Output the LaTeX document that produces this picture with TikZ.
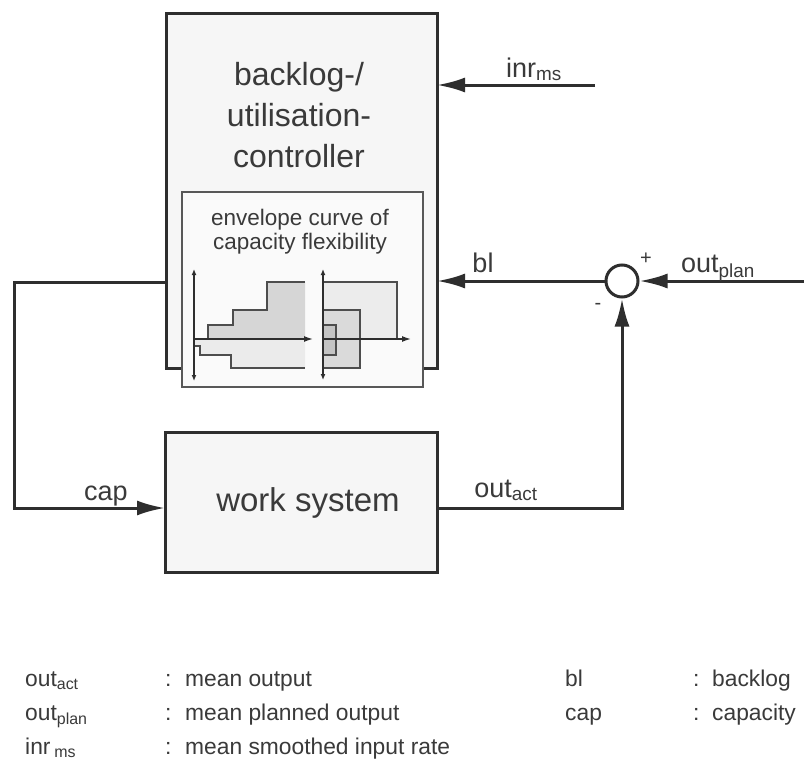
\documentclass[tikz,border=0pt]{standalone}
\usepackage{fontspec}
\setmainfont{Liberation Sans}
\usetikzlibrary{arrows.meta,calc}
\definecolor{ink}{HTML}{2E2E2E}
\definecolor{txt}{HTML}{3A3A3A}
\definecolor{boxfill}{HTML}{F6F6F6}
\definecolor{innerfill}{HTML}{FAFAFA}
\definecolor{gA}{HTML}{D6D6D6}
\definecolor{gB}{HTML}{EBEBEB}
\definecolor{gC}{HTML}{ECECEC}
\definecolor{gD}{HTML}{DADADA}
\definecolor{gE}{HTML}{C4C4C4}
\tikzset{
  bigbox/.style={draw=ink, line width=3pt, fill=boxfill, inner sep=0pt, outer sep=0pt},
  innerbox/.style={draw=ink!80, line width=1.3pt, fill=innerfill, inner sep=0pt, outer sep=0pt},
  conn/.style={draw=ink, line width=3pt, -{Latex[length=28pt,width=15pt]}},
  maintext/.style={text=txt, font=\fontsize{32}{41}\selectfont, anchor=base, inner sep=0pt},
  envtext/.style={text=txt, font=\fontsize{22.5}{26}\selectfont, anchor=base, inner sep=0pt},
  labeltext/.style={text=txt, font=\fontsize{27}{30}\selectfont, inner sep=0pt},
  legend/.style={text=txt, font=\fontsize{22.8}{26}\selectfont, anchor=base west, inner sep=0pt},
  axis/.style={draw=ink, line width=1.4pt},
  stair/.style={draw=ink!85, line width=1.4pt},
}
\begin{document}
\begin{tikzpicture}[x=1pt,y=-1pt]
\useasboundingbox (0,0) rectangle (804,774);
\fill[white] (0,0) rectangle (804,774);

% controller box
\node[bigbox, minimum width=271pt, minimum height=355pt] (ctrl) at (301.5,190.5) {};
\node[maintext] (ctrlA) at (299,85) {backlog-/};
\node[maintext] (ctrlB) at (299,126) {utilisation-};
\node[maintext] (ctrlC) at (299,167) {controller};

% inner box
\node[innerbox, minimum width=241pt, minimum height=195pt] (inner) at (302.5,289.5) {};
\node[envtext] (envA) at (300,225) {envelope curve of};
\node[envtext] (envB) at (300,249) {capacity flexibility};

% left envelope diagram
\fill[gA] (208,339) -- (208,325) -- (233,325) -- (233,310) -- (267,310) -- (267,282) -- (305,282) -- (305,339) -- cycle;
\fill[gB] (195,339) -- (195,346) -- (200,346) -- (200,355) -- (231,355) -- (231,368) -- (305,368) -- (305,339) -- cycle;
\draw[stair] (208,339) -- (208,325) -- (233,325) -- (233,310) -- (267,310) -- (267,282) -- (305,282);
\draw[stair] (194,346) -- (200,346) -- (200,355) -- (231,355) -- (231,368) -- (305,368);
\draw[axis, {Latex[length=6pt,width=5pt]}-{Latex[length=6pt,width=5pt]}] (194,269) -- (194,381);
\draw[axis, -{Latex[length=9pt,width=6pt]}] (194,339) -- (313,339);

% right envelope diagram
\filldraw[fill=gC, draw=ink!85, line width=1.4pt] (323,282) -- (397,282) -- (397,339) -- (323,339);
\filldraw[fill=gD, draw=ink!85, line width=1.4pt] (323,310) -- (360,310) -- (360,368) -- (323,368);
\filldraw[fill=gE, draw=ink!85, line width=1.4pt] (323,325) -- (336,325) -- (336,355) -- (323,355);
\draw[axis, {Latex[length=6pt,width=5pt]}-{Latex[length=6pt,width=5pt]}] (323,269) -- (323,380);
\draw[axis, -{Latex[length=9pt,width=6pt]}] (323,339) -- (411,339);

% work system
\node[bigbox, minimum width=272pt, minimum height=140pt] (ws) at (301,502) {};
\node[text=txt, font=\fontsize{33}{40}\selectfont, inner sep=0pt] (wstext) at (308,503) {work system};

% summing junction
\node[draw=ink, line width=3pt, circle, minimum size=32pt, inner sep=0pt, fill=white] (sum) at (622,281) {};
\node[text=txt, font=\fontsize{20}{22}\selectfont, inner sep=0pt] (plus) at (646,259) {+};
\node[text=txt, font=\fontsize{20}{22}\selectfont, inner sep=0pt] (minus) at (598,306) {-};

% connectors
\coordinate (inrS) at (595,85);
\draw[conn] (inrS) -- (ctrl.east |- inrS);
\node[labeltext, anchor=base] (inrL) at (534,77) {inr\textsubscript{ms}};

\draw[conn] (sum.west) -- (ctrl.east |- sum.west);
\node[labeltext, anchor=base] (blL) at (483,272) {bl};

\coordinate (planS) at (804,281);
\draw[conn] (planS) -- (sum.east);
\node[labeltext, anchor=base] (planL) at (718,272) {out\textsubscript{plan}};

\coordinate (oa) at (437,508);
\draw[conn] (oa) -| (sum.south);
\node[labeltext, anchor=base] (actL) at (506,497) {out\textsubscript{act}};

\coordinate (fbS) at (166,282);
\coordinate (fbA) at (14,282);
\coordinate (fbB) at (14,508);
\coordinate (capE) at (165,508);
\draw[conn] (fbS) -- (fbA) -- (fbB) -- (capE);
\node[labeltext, anchor=base] (capL) at (106,500) {cap};

% legend
\node[legend] (l1a) at (25,686) {out\textsubscript{act}};
\node[legend] (l1b) at (165,686) {:};
\node[legend] (l1c) at (185,686) {mean output};
\node[legend] (l2a) at (25,720) {out\textsubscript{plan}};
\node[legend] (l2b) at (165,720) {:};
\node[legend] (l2c) at (185,720) {mean planned output};
\node[legend] (l3a) at (25,754) {inr\,\textsubscript{ms}};
\node[legend] (l3b) at (165,754) {:};
\node[legend] (l3c) at (185,754) {mean smoothed input rate};
\node[legend] (r1a) at (565,686) {bl};
\node[legend] (r1b) at (693,686) {:};
\node[legend] (r1c) at (712,686) {backlog};
\node[legend] (r2a) at (565,720) {cap};
\node[legend] (r2b) at (693,720) {:};
\node[legend] (r2c) at (712,720) {capacity};
\end{tikzpicture}
\end{document}
